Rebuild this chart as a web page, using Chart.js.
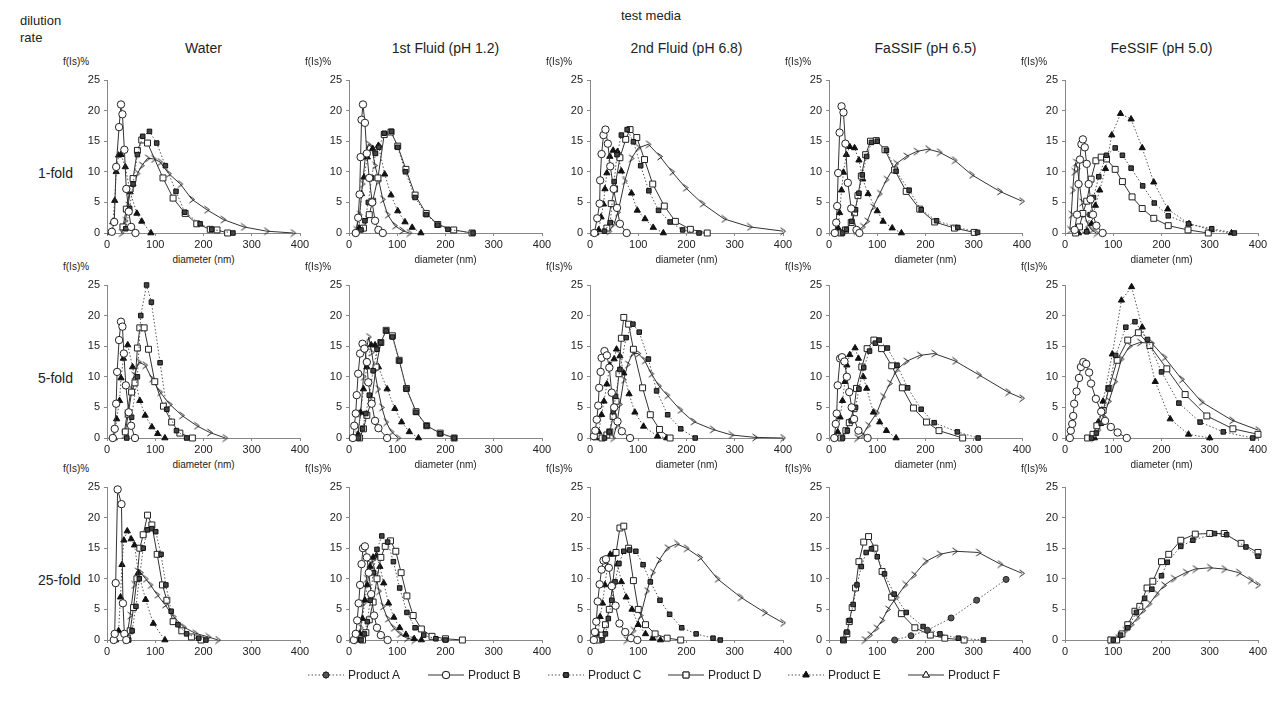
<!DOCTYPE html>
<html>
<head>
<meta charset="utf-8">
<script src="https://cdn.jsdelivr.net/npm/chart.js@4.4.0/dist/chart.umd.min.js"></script>
<style>
body { margin:0; width:1272px; height:710px; background:#fff; position:relative; overflow:hidden;
       font-family:"Liberation Sans", Arial, sans-serif; color:#222; }
.t { position:absolute; white-space:nowrap; }
.p { position:absolute; }
.leg { position:absolute; display:flex; align-items:center; font-size:12px; }
.leg canvas { margin-right:4px; }
</style>
</head>
<body>
<script>
// ---- labels ----
const media = ['Water', '1st Fluid (pH 1.2)', '2nd Fluid (pH 6.8)', 'FaSSIF (pH 6.5)', 'FeSSIF (pH 5.0)'];
const dilutions = ['1-fold', '5-fold', '25-fold'];
const products = ['Product A', 'Product B', 'Product C', 'Product D', 'Product E', 'Product F'];
const xTicks = [0, 100, 200, 300, 400];
const yTicks = [0, 5, 10, 15, 20, 25];

// ---- data: [diameter nm, f(Is)%] ----
// 1-fold
const water1_B = [[10,0.2],[15,1.8],[19,10.8],[25,17.3],[29,21],[32,19.4],[36,13.6],[40,7.2],[45,3.5],[50,1],[59,0]];
const water1_C = [[39,0.7],[47,4],[54,8],[63,12.8],[74,15.8],[88,16.6],[103,14.7],[121,11],[143,6.8],[161,3.4],[193,1.5],[217,0.6],[261,0]];
const water1_D = [[33,1],[40,3.9],[48,7.2],[54,8.9],[63,13.5],[72,15.2],[84,14.7],[116,9],[137,5.7],[162,3.2],[186,1.5],[214,0.6],[228,0.5],[250,0]];
const water1_E = [[8,0.1],[12,1.8],[16,5.3],[19,10],[24,12.7],[29,12.8],[38,10.8],[48,6.7],[62,3.2],[72,1.9],[91,0]];
const water1_F = [[30,0],[38,2],[44,4.5],[48,7],[55,7.8],[63,9.7],[72,11],[84,12.2],[97,12.1],[110,11.6],[128,9.7],[152,8],[176,5.5],[207,3.8],[241,2.2],[283,1],[331,0.3],[386,0]];

const fluid1_1_B = [[14,0],[19,2.5],[22,6.3],[24,12.4],[26,18.5],[29,21],[33,18],[37,13],[42,9],[48,5],[54,2],[61,0.5],[70,0]];
const fluid1_1_C = [[25,0.5],[33,2],[40,5],[47,9],[55,13],[62,14],[73,16.3],[88,16.6],[101,14],[117,10],[137,5.8],[160,3],[184,1.3],[205,0.6],[257,0]];
const fluid1_1_D = [[30,0.8],[42,3],[49,5.2],[60,9],[73,16.1],[87,16.5],[101,14.2],[118,10.4],[137,6.2],[160,3.2],[184,1.4],[217,0.5],[255,0]];
const fluid1_1_E = [[14,0],[21,0.8],[26,6.4],[31,9.1],[38,12.4],[49,13.8],[61,14.3],[74,9.6],[87,6.2],[101,3.6],[116,1.8],[131,0.9],[149,0]];
const fluid1_1_F = [[15,0.5],[22,3],[28,8],[34,12.5],[40,14.5],[47,14],[54,11],[62,8.5],[70,5.5],[80,3],[95,1.2],[110,0.4],[125,0]];

const fluid2_1_B = [[9,0],[15,2.4],[20,4.8],[21,8.6],[24,12.9],[28,16],[32,16.9],[37,14.6],[42,10.9],[49,7.2],[56,4.1],[62,1.5],[76,0]];
const fluid2_1_C = [[30,0.3],[42,1.7],[50,8.4],[56,12.8],[65,16],[77,16.9],[90,14.9],[105,11],[122,6.9],[142,3.7],[166,1.8],[192,0.5],[226,0]];
const fluid2_1_D = [[35,0.8],[44,4.8],[51,7.2],[62,12.3],[74,15.3],[83,16.9],[97,15.6],[113,12],[130,8],[154,4.4],[177,1.9],[208,0.6],[243,0]];
const fluid2_1_E = [[12,0],[18,0.5],[23,2.6],[28,4.7],[31,7.2],[35,9.8],[41,12.5],[48,13.5],[57,13.3],[65,10.1],[86,6.5],[98,3.7],[114,2.3],[131,0.9],[152,0]];
const fluid2_1_F = [[40,0.3],[50,1.5],[58,3.4],[72,8.5],[86,12.2],[100,13.9],[121,14.5],[145,12.5],[170,10],[198,7.4],[233,4.8],[278,2.3],[331,1],[400,0.3]];

const fassif1_B = [[12,0],[15,1.7],[17,4.4],[19,9.8],[22,16.4],[26,20.7],[30,19.7],[34,14.6],[39,8.2],[46,4],[57,0.5],[63,0]];
const fassif1_C = [[28,0],[36,0.6],[47,1.9],[55,3.8],[62,6.5],[69,9.5],[78,12.5],[88,14.8],[100,15],[119,13.5],[139,10.1],[166,7],[191,3.8],[223,2],[267,0.9],[308,0.1]];
const fassif1_D = [[25,0],[34,0.5],[46,1.7],[53,3.3],[60,6.1],[67,9.3],[76,12.8],[86,15],[98,15.1],[116,13.6],[136,10.3],[160,6.8],[188,3.9],[219,1.8],[260,0.8],[301,0.1]];
const fassif1_E = [[14,0],[19,0.8],[22,3.3],[26,7],[30,9.9],[36,12.8],[43,14.1],[53,13.9],[62,11.9],[70,8.8],[81,6.4],[100,3.6],[112,1.9],[131,0.8],[150,0]];
const fassif1_F = [[57,0.3],[70,1],[79,1.9],[91,4.2],[105,6.4],[119,8.7],[139,11.3],[160,12.5],[181,13.3],[205,13.7],[229,13.2],[260,11.9],[296,9.5],[354,6.8],[400,5.2]];

const fessif1_B = [[20,0.5],[25,3],[28,8],[31,12],[34,14.5],[37,15.3],[41,14],[45,11.3],[49,8],[53,5.5],[58,3],[65,1.2],[78,0]];
const fessif1_C = [[45,0.2],[52,3],[59,5.8],[70,9.2],[86,12.7],[104,13.9],[119,12.7],[137,10.6],[161,7.7],[185,4.9],[214,2.8],[256,1.5],[304,0.7],[351,0]];
const fessif1_D = [[22,0],[30,1],[37,3.2],[45,5.2],[54,8.8],[64,11.8],[75,12.4],[86,12.1],[104,10.4],[119,8.4],[139,5.9],[160,4],[184,2.4],[214,1.2],[255,0.5],[297,0]];
const fessif1_E = [[28,0],[45,0.3],[55,1.5],[63,4.5],[72,7],[84,10.5],[97,16],[115,19.5],[137,18.6],[160,13.9],[184,8.3],[213,3.9],[257,1.5],[303,0.5],[345,0]];
const fessif1_F = [[10,0.5],[13,3],[16,7],[19,10],[22,11.5],[26,10.5],[30,8],[35,5],[40,3],[47,1.5],[55,0.5],[65,0]];

// 5-fold
const water5_B = [[12,0],[16,1.5],[19,5.6],[21,10.8],[25,16],[29,19],[32,18.2],[35,13.8],[39,8.6],[45,4.2],[50,2],[58,0]];
const water5_C = [[41,0],[51,3.4],[63,10],[70,20],[82,25],[92,22.2],[110,12.3],[124,4.7],[144,1.2],[165,0]];
const water5_D = [[38,1],[44,3.9],[51,7.5],[58,9],[63,14.7],[68,18],[77,18],[86,14.5],[99,9.2],[117,5.2],[134,2.6],[151,0.8],[177,0]];
const water5_E = [[15,0],[20,3.1],[26,6.1],[29,9.8],[34,13],[43,15.2],[53,11.6],[68,6.1],[79,3.7],[93,1.8],[105,0.7],[120,0]];
const water5_F = [[35,0.5],[42,4],[50,8],[56,10.2],[66,12.4],[79,11.9],[93,9.7],[110,7.5],[130,5.5],[155,3.7],[186,2],[213,0.9],[245,0]];

const fluid1_5_B = [[8,0],[11,2],[14,4],[16,7],[19,10.5],[23,13.8],[28,15.4],[32,14.6],[37,12.4],[40,9.1],[47,5.6],[54,2.8],[61,1.6],[79,0]];
const fluid1_5_C = [[20,0],[28,1.5],[35,4],[42,7],[50,11],[58,14.5],[66,15.6],[77,17.5],[90,16.5],[104,12.6],[119,8],[139,4.2],[161,2],[189,0.7],[218,0]];
const fluid1_5_D = [[22,0],[30,1.5],[37,3.7],[47,6.1],[56,11.6],[66,15.6],[77,17.6],[90,16.7],[104,12.7],[119,8.1],[139,4.3],[161,2],[189,0.8],[218,0]];
const fluid1_5_E = [[12,0],[19,0.6],[24,4.2],[30,8],[37,11.6],[46,15.2],[54,15.2],[61,11.6],[79,8],[95,4.8],[109,2.6],[125,1],[144,0]];
const fluid1_5_F = [[18,0.5],[24,4],[30,10],[36,14.5],[41,16.5],[47,14],[53,11],[60,8],[68,5],[77,2.6],[88,1],[102,0]];

const fluid2_5_B = [[8,0.3],[11,1.2],[14,3],[17,5.3],[19,8.2],[22,10.8],[24,13.1],[30,14.2],[35,13.5],[40,11.5],[45,7.4],[50,5],[57,2.7],[66,1.1],[83,0]];
const fluid2_5_C = [[30,0],[40,1],[48,4.3],[53,6.8],[62,11.2],[75,16.4],[89,18.6],[102,17.3],[121,12.9],[138,7.7],[161,3.8],[188,1.5],[218,0]];
const fluid2_5_D = [[25,0],[35,0.5],[41,1],[48,3.5],[54,6],[60,10.5],[65,16.3],[70,19.7],[80,18.6],[90,14.5],[109,8.2],[125,3.8],[144,1.4],[166,0]];
const fluid2_5_E = [[12,0],[18,1],[24,3.8],[29,6],[35,8.8],[41,11.9],[50,12.9],[55,14.5],[62,13.4],[70,10.6],[81,7.2],[93,4.2],[111,1.9],[140,0.3],[159,0]];
const fluid2_5_F = [[48,0],[55,2],[62,5.5],[70,9.5],[78,12],[88,13.8],[100,13.8],[113,12.7],[127,10.5],[143,8.5],[160,7],[187,4.6],[214,2.7],[254,1.4],[293,0.5],[342,0.1],[400,0]];

const fassif5_B = [[11,0],[14,2.3],[16,4],[18,8.6],[23,13],[27,13.2],[32,12.5],[37,10],[42,7.5],[47,5],[52,3.1],[61,1.2],[80,0]];
const fassif5_C = [[28,0],[38,1.2],[46,2.8],[55,5],[62,8],[72,11.5],[84,14.2],[96,15.5],[104,16],[121,14.7],[141,11.9],[163,8.2],[191,4.7],[218,2.5],[266,1],[309,0]];
const fassif5_D = [[25,0],[35,1.2],[42,2.5],[52,4.8],[57,8.1],[68,11.6],[79,14.6],[93,16],[109,14.6],[130,11.8],[152,8.2],[175,4.9],[202,2.6],[228,1.2],[277,0]];
const fassif5_E = [[12,0],[18,1],[23,3.4],[28,6.1],[33,9.2],[37,11.9],[43,13.6],[54,14.7],[61,13],[71,10],[78,8.1],[92,4.2],[105,2.6],[119,1.2],[139,0]];
const fassif5_F = [[58,0],[70,0.5],[81,2],[99,4.1],[112,6.7],[126,8.9],[140,11.1],[160,12.5],[188,13.5],[218,13.8],[261,12.6],[311,10.3],[371,7.5],[400,6.5]];

const fessif5_B = [[10,0],[12,1.2],[15,2.3],[17,3.6],[19,5.6],[24,7.6],[29,9.8],[33,11.6],[38,12.4],[44,12.1],[50,10.7],[54,8.9],[64,6.4],[75,4.3],[83,2.8],[95,1.8],[109,0.9],[128,0]];
const fessif5_C = [[55,0],[65,0.8],[75,2.4],[90,8.1],[105,13.5],[126,18.1],[145,19],[171,16.1],[200,10.8],[236,5.7],[280,2.6],[328,1],[389,0]];
const fessif5_D = [[47,0],[58,0.6],[66,2],[79,4.5],[91,8.1],[108,12.7],[130,16],[152,17.2],[176,15.1],[211,11.3],[249,7.1],[294,3.6],[348,1.5],[400,0.6]];
const fessif5_E = [[61,0],[69,2.6],[79,6],[98,13.7],[117,22.5],[138,24.7],[160,18.1],[187,9.2],[218,3.1],[256,0.6],[300,0]];
const fessif5_F = [[60,0],[69,1.3],[80,3.5],[91,6],[104,9.2],[117,12.9],[134,15],[155,15.6],[180,15.5],[206,13.2],[242,9.6],[283,5.9],[346,2.9],[400,1.3]];

// 25-fold
const water25_B = [[14,0],[16,1],[18,9.3],[22,24.6],[30,22.2],[33,6],[36,1],[40,0]];
const water25_C = [[45,0],[52,1.5],[60,5.5],[67,10],[75,15],[84,18],[93,18.2],[101,17.7],[112,14],[122,9],[133,4.7],[147,2.5],[165,1],[190,0.3],[205,0]];
const water25_D = [[42,0.3],[48,1.5],[55,5.3],[62,10],[68,15],[75,17.2],[84,20.4],[93,18.8],[104,14],[115,9],[124,6.5],[137,3],[155,1.5],[175,0.5],[195,0]];
const water25_E = [[18,0],[24,1.5],[28,7],[31,12.3],[35,16.3],[42,17.8],[50,16.5],[57,15.5],[65,11],[80,6.6],[96,2.7],[120,0]];
const water25_F = [[40,0],[48,4],[56,9],[63,11.2],[70,11],[80,10],[90,9],[104,7.4],[120,5.8],[138,3.8],[159,2.1],[183,1.1],[210,0.5],[230,0]];

const fluid1_25_B = [[10,0],[14,1],[17,3.2],[20,6],[23,9],[26,12.4],[29,15],[33,15.3],[37,13.5],[41,11],[46,7.5],[52,4],[58,2],[66,0.8],[80,0]];
const fluid1_25_C = [[25,0],[32,1],[38,3],[44,6.5],[50,11],[58,14.8],[68,17],[80,16],[92,12.8],[105,8.5],[120,4.5],[137,2],[155,0.8],[180,0.2],[200,0]];
const fluid1_25_D = [[28,0],[35,1.2],[42,3.3],[50,6.2],[58,10],[66,13.5],[75,15.3],[86,16.2],[97,14.5],[108,11],[120,7.2],[133,4],[150,1.8],[172,0.6],[200,0.2],[235,0]];
const fluid1_25_E = [[18,0],[23,1],[28,3.5],[33,6.5],[38,9],[44,12],[50,13.5],[57,13.8],[64,12],[72,9.3],[82,6],[93,3.7],[105,2],[118,0.9],[135,0.2],[150,0]];
const fluid1_25_F = [[18,0],[24,2],[30,6],[36,10],[42,12.5],[48,13],[55,11],[62,8],[70,5.5],[80,3.5],[92,2],[105,1],[120,0.3],[135,0]];

const fluid2_25_B = [[8,0],[10,1.3],[13,3],[16,6.3],[20,9.1],[24,11.5],[28,13],[33,13.2],[39,11.8],[45,8.8],[53,5.6],[61,2.7],[73,1.3],[85,0.3],[98,0]];
const fluid2_25_C = [[25,0],[32,1],[38,3.5],[45,6.5],[52,9.5],[60,12.5],[70,14.5],[82,14.7],[95,14.5],[110,12.3],[125,9.5],[145,6.5],[165,4.2],[190,2],[220,1],[255,0.3],[270,0]];
const fluid2_25_D = [[18,0],[25,0.8],[32,2.5],[40,5],[47,9],[54,14.3],[62,18.3],[70,18.6],[80,15],[90,9.7],[100,5],[115,2.5],[135,1],[160,0.3],[188,0]];
const fluid2_25_E = [[12,0],[17,1],[21,3.8],[26,6],[31,9],[36,12],[42,14],[49,14],[57,12.4],[65,9.5],[75,7],[87,5],[100,2.5],[115,1],[130,0.3],[146,0]];
const fluid2_25_F = [[75,0],[90,1.5],[105,4],[118,8],[130,11],[143,13],[160,15],[180,15.7],[200,15],[228,13.5],[264,10],[312,7],[362,4.5],[400,2.8]];

const fassif25_A = [[136,0],[170,0.7],[204,1.6],[253,3.6],[306,6.5],[367,9.9]];
const fassif25_C = [[30,0],[37,1.3],[43,3.2],[50,5.8],[58,9],[67,12],[77,14.3],[88,14.9],[100,13.6],[115,10.8],[135,7.5],[160,4.5],[195,2.2],[230,1],[268,0.3],[320,0]];
const fassif25_D = [[30,0],[37,1],[42,3],[48,5.3],[55,8.5],[62,12.8],[72,16],[82,16.9],[95,15],[110,11.2],[130,7],[150,4.3],[178,2],[210,0.8],[240,0.3],[280,0]];
const fassif25_F = [[73,0],[85,0.8],[98,1.9],[110,3.2],[122,5],[140,7],[158,9],[176,10.6],[200,12.8],[229,14],[261,14.5],[310,14.3],[355,12.4],[400,10.9]];

const fessif25_C = [[100,0],[115,0.8],[130,2],[148,4.5],[165,6.8],[180,8.3],[200,10.5],[212,12.7],[240,15.3],[265,16.3],[310,17.4],[335,17.2],[375,15.2],[400,13.7]];
const fessif25_D = [[95,0],[107,0],[118,1],[130,2.5],[145,4.7],[155,5.5],[170,8.5],[182,9.6],[200,12.8],[215,14],[240,16.3],[270,17.3],[300,17.4],[330,17.4],[365,15.8],[400,14.3]];
const fessif25_F = [[95,0],[110,0.3],[125,1.5],[138,2.5],[150,3.6],[162,4.8],[175,5.9],[190,7.5],[205,8.9],[225,10],[250,11],[270,11.6],[300,11.8],[330,11.6],[360,11],[385,9.8],[400,9]];

// panels[row][col] -> list of [productIndex, points]
const panels = [
  [
    [[1,water1_B],[2,water1_C],[3,water1_D],[4,water1_E],[5,water1_F]],
    [[1,fluid1_1_B],[2,fluid1_1_C],[3,fluid1_1_D],[4,fluid1_1_E],[5,fluid1_1_F]],
    [[1,fluid2_1_B],[2,fluid2_1_C],[3,fluid2_1_D],[4,fluid2_1_E],[5,fluid2_1_F]],
    [[1,fassif1_B],[2,fassif1_C],[3,fassif1_D],[4,fassif1_E],[5,fassif1_F]],
    [[1,fessif1_B],[2,fessif1_C],[3,fessif1_D],[4,fessif1_E],[5,fessif1_F]]
  ],
  [
    [[1,water5_B],[2,water5_C],[3,water5_D],[4,water5_E],[5,water5_F]],
    [[1,fluid1_5_B],[2,fluid1_5_C],[3,fluid1_5_D],[4,fluid1_5_E],[5,fluid1_5_F]],
    [[1,fluid2_5_B],[2,fluid2_5_C],[3,fluid2_5_D],[4,fluid2_5_E],[5,fluid2_5_F]],
    [[1,fassif5_B],[2,fassif5_C],[3,fassif5_D],[4,fassif5_E],[5,fassif5_F]],
    [[1,fessif5_B],[2,fessif5_C],[3,fessif5_D],[4,fessif5_E],[5,fessif5_F]]
  ],
  [
    [[1,water25_B],[2,water25_C],[3,water25_D],[4,water25_E],[5,water25_F]],
    [[1,fluid1_25_B],[2,fluid1_25_C],[3,fluid1_25_D],[4,fluid1_25_E],[5,fluid1_25_F]],
    [[1,fluid2_25_B],[2,fluid2_25_C],[3,fluid2_25_D],[4,fluid2_25_E],[5,fluid2_25_F]],
    [[0,fassif25_A],[2,fassif25_C],[3,fassif25_D],[5,fassif25_F]],
    [[2,fessif25_C],[3,fessif25_D],[5,fessif25_F]]
  ]
];

// ---- layout ----
const colLeft = [107, 349, 590, 829, 1065];
const rowBottom = [233, 438, 640];
const plotW = 193, plotH = 153;
const AXW = 40, PADTOP = 12, PADRIGHT = 15, XH = 18;
const FONT = '"Liberation Sans", Arial, sans-serif';

// F marker is a small open chevron
function chevron() {
  const c = document.createElement('canvas');
  c.width = 8; c.height = 9;
  const g = c.getContext('2d');
  g.strokeStyle = '#222'; g.lineWidth = 1;
  g.beginPath(); g.moveTo(1.5, 1); g.lineTo(6.5, 4.5); g.lineTo(1.5, 8); g.stroke();
  return c;
}
const fMark = chevron();

const styles = [
  {point:'circle',   r:3,   fill:'#555', stroke:'#222', dash:[1.5,2], line:'#555'},
  {point:'circle',   r:3.7, fill:'#fff', stroke:'#222', dash:[],      line:'#333'},
  {point:'rect',     r:3.2, fill:'#444', stroke:'#111', dash:[1.5,2], line:'#555'},
  {point:'rect',     r:4.2, fill:'#fff', stroke:'#222', dash:[],      line:'#333'},
  {point:'triangle', r:3.6, fill:'#111', stroke:'#111', dash:[1.5,2], line:'#555'},
  {point:fMark,      r:4,   fill:'#fff', stroke:'#222', dash:[],      line:'#333'}
];

function addText(txt, x, y, size, align) {
  const d = document.createElement('div');
  d.className = 't';
  d.textContent = txt;
  d.style.fontSize = size + 'px';
  d.style.top = y + 'px';
  d.style.left = x + 'px';
  if (align === 'center') d.style.transform = 'translateX(-50%)';
  document.body.appendChild(d);
  return d;
}

// header texts
addText('test media', 651, 8, 13, 'center');
addText('dilution', 20, 13, 13);
addText('rate', 20, 30, 13);
media.forEach((m, c) => addText(m, colLeft[c] + plotW / 2, 40, 14, 'center'));
dilutions.forEach((d, r) => addText(d, 38, rowBottom[r] - plotH / 2 + 8, 14));

panels.forEach((row, r) => {
  row.forEach((series, c) => {
    const left = colLeft[c] - AXW, top = rowBottom[r] - plotH - PADTOP;
    const cv = document.createElement('canvas');
    cv.className = 'p';
    cv.width = plotW + AXW + PADRIGHT;
    cv.height = plotH + PADTOP + XH;
    cv.style.left = left + 'px';
    cv.style.top = top + 'px';
    document.body.appendChild(cv);

    addText('f(Is)%', colLeft[c] - 44, rowBottom[r] - plotH - 24, 10);
    if (r < 2) addText('diameter (nm)', colLeft[c] + plotW / 2, rowBottom[r] + 21, 10, 'center');

    new Chart(cv.getContext('2d'), {
      type: 'line',
      data: {
        datasets: series.map(([p, pts]) => {
          const s = styles[p];
          return {
            label: products[p],
            data: pts.map(v => ({x: v[0], y: v[1]})),
            borderColor: s.line, borderWidth: 1, borderDash: s.dash,
            pointStyle: s.point, pointRadius: s.r,
            pointBackgroundColor: s.fill, pointBorderColor: s.stroke, pointBorderWidth: 1,
            tension: 0, clip: 8
          };
        })
      },
      options: {
        animation: false, responsive: false,
        plugins: {legend: {display: false}, tooltip: {enabled: false}},
        layout: {padding: {top: PADTOP, right: PADRIGHT, left: 0, bottom: 0}},
        scales: {
          x: {
            type: 'linear', min: 0, max: 400,
            afterBuildTicks: s => { s.ticks = xTicks.map(v => ({value: v})); },
            afterFit: s => { s.height = XH; },
            ticks: {font: {family: FONT, size: 11}, color: '#222', maxRotation: 0, padding: 2},
            grid: {drawOnChartArea: false, tickLength: 3, color: '#888'},
            border: {color: '#888'}
          },
          y: {
            min: 0, max: 25,
            afterBuildTicks: s => { s.ticks = yTicks.map(v => ({value: v})); },
            afterFit: s => { s.width = AXW; },
            ticks: {font: {family: FONT, size: 11}, color: '#222', padding: 4},
            grid: {drawOnChartArea: false, tickLength: 3, color: '#888'},
            border: {color: '#888'}
          }
        }
      }
    });
  });
});

// legend
products.forEach((name, i) => {
  const s = styles[i];
  const box = document.createElement('div');
  box.className = 'leg';
  box.style.left = (308 + i * 120) + 'px';
  box.style.top = '668px';
  const cv = document.createElement('canvas');
  cv.width = 36; cv.height = 14;
  const g = cv.getContext('2d');
  g.strokeStyle = s.line; g.lineWidth = 1; g.setLineDash(s.dash);
  g.beginPath(); g.moveTo(0, 7); g.lineTo(36, 7); g.stroke();
  g.setLineDash([]);
  const style = i === 5 ? 'triangle' : s.point;
  g.fillStyle = s.fill; g.strokeStyle = s.stroke;
  Chart.helpers.drawPoint(g, {pointStyle: style, radius: s.r, borderWidth: 1}, 18, 7);
  g.fill(); g.stroke();
  box.appendChild(cv);
  const t = document.createElement('span');
  t.textContent = name;
  box.appendChild(t);
  document.body.appendChild(box);
});
</script>
</body>
</html>
